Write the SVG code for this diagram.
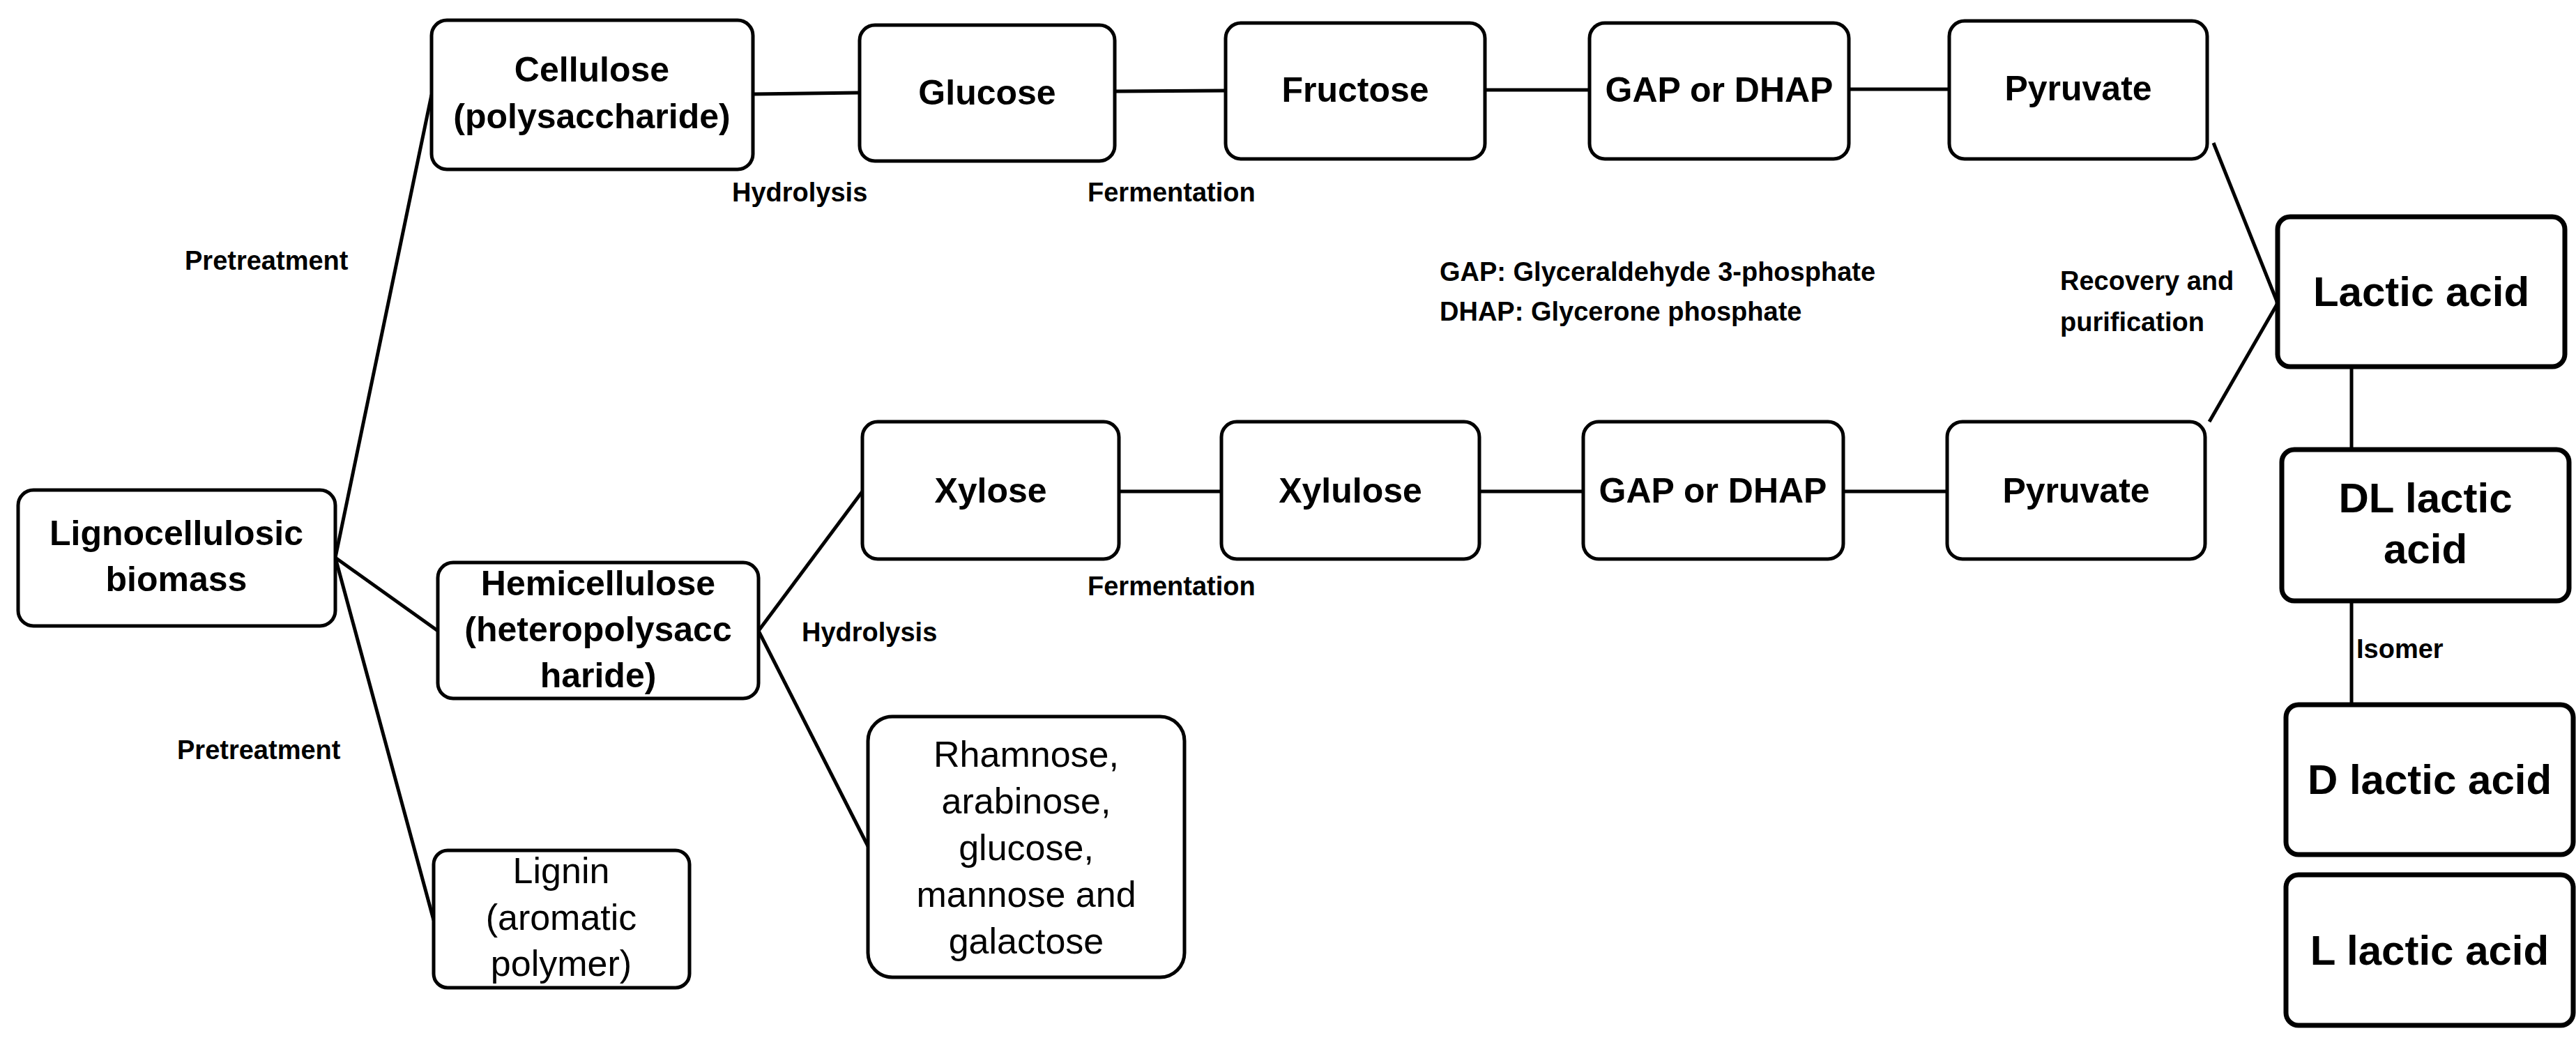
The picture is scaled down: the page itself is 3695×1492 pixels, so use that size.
<svg xmlns="http://www.w3.org/2000/svg" width="3695" height="1492" viewBox="0 0 3695 1492">
<style>
.n{fill:#fff;stroke:#000;stroke-width:5}
.t{stroke:#000;stroke-width:7}
.c{stroke:#000;stroke-width:5;fill:none}
text{font-family:"Liberation Sans",Arial,sans-serif;fill:#000}
.b{font-weight:bold;font-size:50px;text-anchor:middle}
.r{font-size:52px;text-anchor:middle}
.l{font-weight:bold;font-size:38px}
.big{font-weight:bold;font-size:60px;text-anchor:middle}
</style>
<rect width="3695" height="1492" fill="#fff"/>
<g id="connectors">
<line class="c" x1="481" y1="800" x2="619" y2="136"/>
<line class="c" x1="481" y1="800" x2="628" y2="905"/>
<line class="c" x1="481" y1="800" x2="622" y2="1320"/>
<line class="c" x1="1080" y1="135" x2="1233" y2="133"/>
<line class="c" x1="1599" y1="131" x2="1758" y2="130"/>
<line class="c" x1="2130" y1="129" x2="2280" y2="129"/>
<line class="c" x1="2652" y1="128" x2="2796" y2="128"/>
<line class="c" x1="1088" y1="905" x2="1237" y2="705"/>
<line class="c" x1="1088" y1="905" x2="1245" y2="1214"/>
<line class="c" x1="1605" y1="705" x2="1752" y2="705"/>
<line class="c" x1="2122" y1="705" x2="2271" y2="705"/>
<line class="c" x1="2644" y1="705" x2="2793" y2="705"/>
<line class="c" x1="3175" y1="205" x2="3267" y2="435"/>
<line class="c" x1="3169" y1="605" x2="3267" y2="435"/>
<line class="c" x1="3373" y1="526" x2="3373" y2="645"/>
<line class="c" x1="3373" y1="862" x2="3373" y2="1011"/>
</g>
<g id="labels">
<text class="l" x="265" y="387">Pretreatment</text>
<text class="l" x="254" y="1089">Pretreatment</text>
<text class="l" x="1050" y="289">Hydrolysis</text>
<text class="l" x="1560" y="289">Fermentation</text>
<text class="l" x="1560" y="854">Fermentation</text>
<text class="l" x="1150" y="920">Hydrolysis</text>
<text class="l" x="2065" y="403">GAP: Glyceraldehyde 3-phosphate</text>
<text class="l" x="2065" y="460">DHAP: Glycerone phosphate</text>
<text class="l" x="2955" y="416">Recovery and</text>
<text class="l" x="2955" y="475">purification</text>
<text class="l" x="3380" y="944">Isomer</text>
</g>
<g id="lignocellulosic"><rect class="n" x="26" y="703" width="455" height="195" rx="22"/><text class="b" x="253" y="782">Lignocellulosic</text><text class="b" x="253" y="848">biomass</text></g>
<g id="cellulose"><rect class="n" x="619" y="29" width="461" height="214" rx="22"/><text class="b" x="849" y="117">Cellulose</text><text class="b" x="849" y="184">(polysaccharide)</text></g>
<g id="glucose"><rect class="n" x="1233" y="36" width="366" height="195" rx="22"/><text class="b" x="1416" y="150">Glucose</text></g>
<g id="fructose"><rect class="n" x="1758" y="33" width="372" height="195" rx="22"/><text class="b" x="1944" y="146">Fructose</text></g>
<g id="gap1"><rect class="n" x="2280" y="33" width="372" height="195" rx="22"/><text class="b" x="2466" y="146">GAP or DHAP</text></g>
<g id="pyruvate1"><rect class="n" x="2796" y="30" width="370" height="198" rx="22"/><text class="b" x="2981" y="144">Pyruvate</text></g>
<g id="hemicellulose"><rect class="n" x="628" y="807" width="460" height="195" rx="22"/><text class="b" x="858" y="854">Hemicellulose</text><text class="b" x="858" y="920">(heteropolysacc</text><text class="b" x="858" y="986">haride)</text></g>
<g id="xylose"><rect class="n" x="1237" y="605" width="368" height="197" rx="22"/><text class="b" x="1421" y="721">Xylose</text></g>
<g id="xylulose"><rect class="n" x="1752" y="605" width="370" height="197" rx="22"/><text class="b" x="1937" y="721">Xylulose</text></g>
<g id="gap2"><rect class="n" x="2271" y="605" width="373" height="197" rx="22"/><text class="b" x="2457" y="721">GAP or DHAP</text></g>
<g id="pyruvate2"><rect class="n" x="2793" y="605" width="370" height="197" rx="22"/><text class="b" x="2978" y="721">Pyruvate</text></g>
<g id="rhamnose"><rect class="n" x="1245" y="1028" width="454" height="374" rx="35"/><text class="r" x="1472" y="1100">Rhamnose,</text><text class="r" x="1472" y="1167">arabinose,</text><text class="r" x="1472" y="1234">glucose,</text><text class="r" x="1472" y="1301">mannose and</text><text class="r" x="1472" y="1368">galactose</text></g>
<g id="lignin"><rect class="n" x="622" y="1220" width="367" height="197" rx="20"/><text class="r" x="805" y="1267">Lignin</text><text class="r" x="805" y="1334">(aromatic</text><text class="r" x="805" y="1400">polymer)</text></g>
<g id="lactic"><rect class="n t" x="3267" y="311" width="412" height="215" rx="18"/><text class="big" x="3473" y="439">Lactic acid</text></g>
<g id="dl"><rect class="n t" x="3273" y="645" width="412" height="217" rx="18"/><text class="big" x="3479" y="735">DL lactic</text><text class="big" x="3479" y="808">acid</text></g>
<g id="d"><rect class="n t" x="3279" y="1011" width="412" height="215" rx="18"/><text class="big" x="3485" y="1139">D lactic acid</text></g>
<g id="llactic"><rect class="n t" x="3279" y="1255" width="412" height="216" rx="18"/><text class="big" x="3485" y="1384">L lactic acid</text></g>
</svg>
